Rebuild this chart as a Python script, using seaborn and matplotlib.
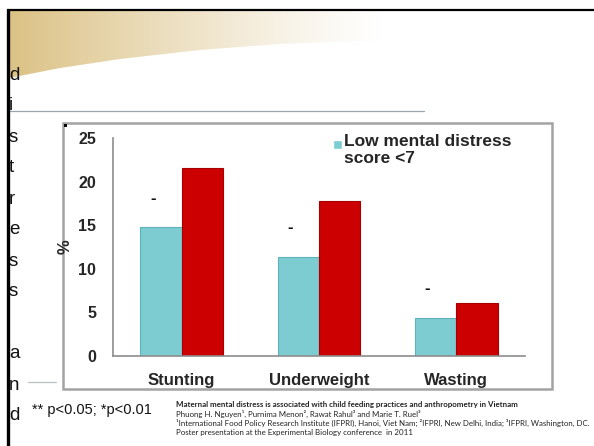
import numpy as np
import pandas as pd
import matplotlib
matplotlib.use("Agg")
import matplotlib.pyplot as plt
from matplotlib.patches import Rectangle, Polygon
from matplotlib.legend_handler import HandlerPatch
import seaborn as sns

# --- data -------------------------------------------------------------
categories = ["Stunting", "Underweight", "Wasting"]
groups = ["Low mental distress\nscore <7", "High mental distress\nscore \u22657"]
low_distress = [14.8, 11.4, 4.4]
high_distress = [21.6, 17.8, 6.1]
sig_marks = ["-", "-", "-"]
y_ticks = [0, 5, 10, 15, 20, 25]
side_word = "distress and"
footnote = "** p<0.05; *p<0.01"
citation_title = ("Maternal mental distress is associated with child feeding "
                  "practices and anthropometry in Vietnam")
citation_lines = [
    "Phuong H. Nguyen\u00b9, Purnima Menon\u00b2, Rawat Rahul\u00b3 and Marie T. Ruel\u00b3",
    "\u00b9International Food Policy Research Institute (IFPRI), Hanoi, Viet Nam; "
    "\u00b2IFPRI, New Delhi, India; \u00b3IFPRI, Washington, DC.",
    "Poster presentation at the Experimental Biology conference  in 2011",
]

df = pd.DataFrame({
    "category": categories * 2,
    "group": [groups[0]] * 3 + [groups[1]] * 3,
    "value": low_distress + high_distress,
})

sns.set_theme(style="white")
plt.rcParams["font.family"] = ["Liberation Sans", "DejaVu Sans"]

W, H = 594, 446
fig = plt.figure(figsize=(W / 100, H / 100), dpi=100)
fig.patch.set_facecolor("white")


def fx(px):
    return px / W


def fy(py):
    return 1 - py / H


# --- slide background: gold gradient swoosh, border lines ---------------
bg = fig.add_axes([0, 0, 1, 1], zorder=0)
bg.set_xlim(0, W)
bg.set_ylim(H, 0)
bg.axis("off")

gold = np.array([0.86, 0.76, 0.52])
xs = np.linspace(0, 1, 400)
alpha = np.clip(1 - xs, 0, 1) ** 1.2
grad = np.zeros((2, 400, 4))
grad[..., :3] = gold
grad[..., 3] = alpha
img = bg.imshow(grad, extent=[9, 385, 80, 11], aspect="auto", zorder=1,
                interpolation="bilinear")
curve_x = np.array([9, 60, 120, 200, 280, 385])
curve_y = np.array([78, 68, 59, 50, 44, 40])
poly_pts = list(zip(curve_x, curve_y)) + [(385, 11), (9, 11)]
clip = Polygon(poly_pts, closed=True, transform=bg.transData, facecolor="none",
               edgecolor="none")
bg.add_patch(clip)
img.set_clip_path(clip)

bg.plot([7, W], [10, 10], color="black", lw=1.6, zorder=3, solid_capstyle="butt")
bg.plot([7.5, 7.5], [9, H], color="black", lw=2.4, zorder=3, solid_capstyle="butt")
bg.plot([9, 424], [111, 111], color="#9aa6ae", lw=0.9, zorder=2)
bg.plot([28, 56], [382, 382], color="#b8c0c6", lw=0.9, zorder=2)

# chart frame
bg.add_patch(Rectangle((63, 123), 552 - 63, 389 - 123, fill=False,
                       edgecolor="#a3a3a3", lw=1.8, zorder=2))
bg.add_patch(Rectangle((63.5, 123.5), 3, 3, facecolor="black",
                       edgecolor="none", zorder=3))

# vertical word down the left edge
letter_y = 75
for ch in side_word:
    if ch != " ":
        bg.text(9, letter_y, ch, fontsize=13.5, color="#111111", ha="left",
                va="center", zorder=4)
    letter_y += 31.0

# --- bar chart ------------------------------------------------------------
ax_l, ax_r, ax_t, ax_b = 113, 525, 138, 356
ax = fig.add_axes([fx(ax_l), fy(ax_b), fx(ax_r) - fx(ax_l),
                   (ax_b - ax_t) / H], zorder=5)
ax.patch.set_alpha(0)

sns.barplot(data=df, x="category", y="value", hue="group",
            palette=["#7dccd2", "#cc0000"], width=0.6, saturation=1,
            ax=ax, errorbar=None, legend=True)

for bar, edge in zip(ax.patches, ["#5eb3ba"] * 3 + ["#a80000"] * 3):
    bar.set_edgecolor(edge)
    bar.set_linewidth(0.8)

ax.set_xlim(-0.5, 2.5)
ax.set_ylim(0, 25)
ax.set_yticks(y_ticks)
ax.set_yticklabels([str(t) for t in y_ticks], fontsize=11.5, fontweight="bold")
ax.set_xticks([0, 1, 2])
ax.set_xticklabels(categories, fontsize=12, fontweight="bold")
ax.set_xticks([-0.5, 0.5, 1.5, 2.5], minor=True)
ax.tick_params(axis="x", which="major", length=0, pad=12)
ax.tick_params(axis="x", which="minor", length=5, width=1, color="#8c8c8c",
               direction="out")
ax.tick_params(axis="y", length=5, width=1, color="#8c8c8c", direction="out",
               pad=7)
for s in ["top", "right"]:
    ax.spines[s].set_visible(False)
for s in ["left", "bottom"]:
    ax.spines[s].set_color("#8c8c8c")
    ax.spines[s].set_linewidth(1.2)
ax.set_xlabel("")
ax.set_ylabel("%", fontsize=12, fontweight="bold", rotation=90)
ax.yaxis.set_label_coords((73 - ax_l) / (ax_r - ax_l), 0.5)

# significance marks above the low-distress bars
low_bars = ax.patches[:3]
for bar, val, mark in zip(low_bars, low_distress, sig_marks):
    cx = bar.get_x() + bar.get_width() / 2 - 0.06
    ax.text(cx, val + 3.3, mark, ha="center", va="center", fontsize=12,
            fontweight="bold", color="#111111")


def top_square(legend, orig_handle, xdescent, ydescent, width, height, fontsize):
    # small square key sitting level with the first line of the label
    side = 0.5 * fontsize
    return Rectangle((-xdescent, -ydescent + height - side * 1.35), side, side)


handles, labels = ax.get_legend_handles_labels()
leg = ax.legend(handles[:1], labels[:1], loc="upper left",
                bbox_to_anchor=((333 - ax_l) / (ax_r - ax_l),
                                (ax_b - 134) / (ax_b - ax_t)),
                frameon=False, handlelength=0.5, handleheight=2.0,
                handletextpad=0.15, borderaxespad=0, borderpad=0,
                handler_map={type(handles[0]): HandlerPatch(patch_func=top_square)},
                prop={"weight": "bold", "size": 12.5})
for t in leg.get_texts():
    t.set_linespacing(1.15)

# --- footnotes --------------------------------------------------------------
fig.text(fx(32), fy(410), footnote, fontsize=10.5, ha="left", va="center",
         color="#111111")
cx0 = fx(176)
fig.text(cx0, fy(405), citation_title, fontsize=5.7, fontweight="bold",
         family=["Lato", "DejaVu Sans"], ha="left", va="center", color="#222222")
for i, line in enumerate(citation_lines):
    fig.text(cx0, fy(414 + 9 * i), line, fontsize=5.7,
             family=["Lato", "DejaVu Sans"], ha="left", va="center",
             color="#222222")

fig.savefig("out.png", dpi=100)
